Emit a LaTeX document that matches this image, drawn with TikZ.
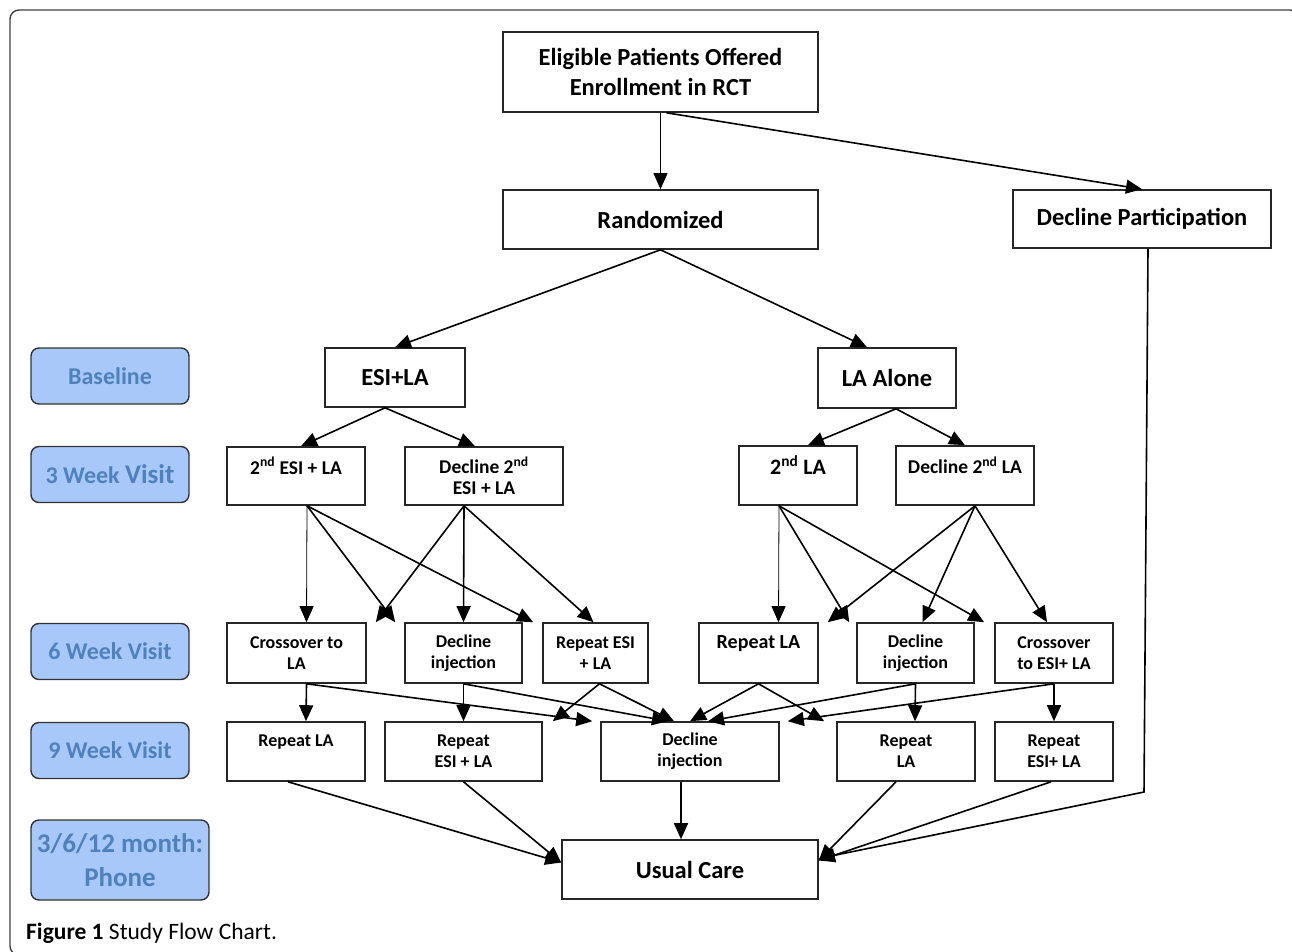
\documentclass[tikz,border=0pt]{standalone}
\usepackage{fontspec}
\setmainfont{Carlito}
\usepackage{xcolor}
\usetikzlibrary{arrows.meta}
\definecolor{stagefill}{RGB}{168,200,250}
\definecolor{stagetext}{RGB}{79,129,189}

\begin{document}
\begin{tikzpicture}[x=1pt,y=-1pt,
        box/.style={draw=black!85,line width=1.6pt,fill=white,inner sep=0pt,align=center},
        txtL/.style={font=\bfseries\fontsize{24.5}{30}\selectfont},
        txtM/.style={font=\bfseries\fontsize{19.5}{21}\selectfont},
        txtS/.style={font=\bfseries\fontsize{18}{21}\selectfont},
        stage/.style={draw=black!80,line width=1.4pt,fill=stagefill,rounded corners=8pt,inner sep=0pt,align=center,text=stagetext,font=\bfseries\fontsize{24}{28}\selectfont,minimum width=158,minimum height=56},
        arr/.style={-{Triangle[length=16pt,width=14pt]},line width=1.6pt},
        thinarr/.style={-{Triangle[length=16pt,width=14pt]},line width=0.8pt}]
        \useasboundingbox (0,0) rectangle (1292,952);
        \draw[black!75,line width=1.4pt,rounded corners=9pt] (10,10) rectangle (1299,955);

        \node[box,txtL,minimum width=315,minimum height=80] (Elig) at (660.5,72) {Eligible Patients Offered\\Enrollment in RCT};
        \node[box,txtL,minimum width=315,minimum height=59] (Rand) at (660.5,219.5) {Randomized};
        \node[box,txtL,minimum width=258,minimum height=58] (DP) at (1142,219) {Decline Participation};
        \node[box,txtL,minimum width=140,minimum height=59] (ESI) at (395,377.5) {ESI+LA};
        \node[box,txtL,minimum width=138,minimum height=60] (LAA) at (887,378) {LA Alone};

        \node[box,txtM,minimum width=138,minimum height=58] (E2) at (296,476) {2\textsuperscript{nd} ESI + LA\\~};
        \node[box,txtM,minimum width=158,minimum height=58] (DE2) at (484,476) {Decline 2\textsuperscript{nd}\\ESI + LA};
        \node[box,font=\bfseries\fontsize{22}{21}\selectfont,minimum width=118,minimum height=59] (L2) at (798,475.5) {2\textsuperscript{nd} LA\\~};
        \node[box,txtM,minimum width=138,minimum height=59] (DL2) at (965,475.5) {Decline 2\textsuperscript{nd} LA\\~};

        \node[box,txtS,minimum width=139,minimum height=60] (C6a) at (296.5,653) {Crossover to\\LA};
        \node[box,txtS,minimum width=117,minimum height=60] (D6a) at (463.5,653) {Decline\\injection};
        \node[box,txtS,minimum width=105,minimum height=60] (R6a) at (595.5,653) {Repeat ESI\\+ LA};
        \node[box,font=\bfseries\fontsize{20}{21}\selectfont,minimum width=119,minimum height=60] (R6b) at (758.5,653) {Repeat LA\\~};
        \node[box,txtS,minimum width=117,minimum height=60] (D6b) at (915.5,653) {Decline\\injection};
        \node[box,txtS,minimum width=118,minimum height=60] (C6b) at (1054,653) {Crossover\\to ESI+ LA};

        \node[box,txtS,minimum width=138,minimum height=59] (R9a) at (296,751.5) {Repeat LA\\~};
        \node[box,txtS,minimum width=157,minimum height=59] (R9b) at (463.5,751.5) {Repeat\\ESI + LA};
        \node[box,txtS,minimum width=178,minimum height=59] (D9) at (690,751.5) {Decline\\injection};
        \node[box,txtS,minimum width=138,minimum height=59] (R9c) at (906,751.5) {Repeat\\LA};
        \node[box,txtS,minimum width=118,minimum height=59] (R9d) at (1054,751.5) {Repeat\\ESI+ LA};

        \node[box,txtL,minimum width=256,minimum height=59] (UC) at (690,869.5) {Usual Care};

        \node[stage] (Base) at (110,376) {Baseline};
        \node[stage] (W3) at (110,474.5) {3 Week {\fontsize{27}{28}\selectfont Visit}};
        \node[stage] (W6) at (110,651.5) {6 Week Visit};
        \node[stage] (W9) at (110,750.5) {9 Week Visit};
        \node[stage,minimum width=178,minimum height=80,font=\bfseries\fontsize{27}{34}\selectfont] (Ph) at (120,860) {3/6/12 month:\\Phone};

        \node[anchor=base west,inner sep=0pt,font=\fontsize{23.5}{26}\selectfont] (Cap) at (26,939) {\textbf{Figure 1} Study Flow Chart.};

        \draw[thinarr] (Elig) -- (Rand);
        \draw[arr] ([xshift=6pt]Elig.south) -- (DP.north);
        \draw[arr] (Rand.south) -- (ESI.north);
        \draw[arr] (Rand.south) -- ([xshift=-20pt]LAA.north);
        \draw[arr] ([xshift=-10pt]ESI.south) -- ([xshift=5pt]E2.north);
        \draw[arr] ([xshift=-10pt]ESI.south) -- ([xshift=-9pt]DE2.north);
        \draw[arr] ([xshift=9pt]LAA.south) -- ([xshift=10pt]L2.north);
        \draw[arr] ([xshift=9pt]LAA.south) -- (DL2.north);

        \draw[thinarr] ([xshift=11pt]E2.south) -- ([xshift=10pt]C6a.north);
        \draw[arr] ([xshift=11pt]E2.south) -- ([xshift=-9pt]D6a.north west);
        \draw[arr] ([xshift=11pt]E2.south) -- ([xshift=-9pt]R6a.north west);
        \draw[arr] ([xshift=-20pt]DE2.south) -- ([xshift=9pt]C6a.north east);
        \draw[arr] ([xshift=-20pt]DE2.south) -- (D6a.north);
        \draw[arr] ([xshift=-20pt]DE2.south) -- ([xshift=-2pt]R6a.north);
        \draw[thinarr] ([xshift=-19pt]L2.south) -- ([xshift=20pt]R6b.north);
        \draw[arr] ([xshift=-19pt]L2.south) -- ([xshift=-7pt]D6b.north west);
        \draw[arr] ([xshift=-19pt]L2.south) -- ([xshift=-10pt]C6b.north west);
        \draw[arr] ([xshift=10pt]DL2.south) -- ([xshift=9pt]R6b.north east);
        \draw[arr] ([xshift=10pt]DL2.south) -- ([xshift=7pt]D6b.north);
        \draw[arr] ([xshift=10pt]DL2.south) -- ([xshift=-7pt]C6b.north);

        \draw[arr] ([xshift=10pt]C6a.south) -- ([xshift=10pt]R9a.north);
        \draw[arr] ([xshift=10pt]C6a.south) -- ([xshift=-8pt]D9.north west);
        \draw[arr] (D6a.south) -- (R9b.north);
        \draw[arr] (D6a.south) -- ([xshift=-22pt]D9.north);
        \draw[arr] ([xshift=4pt]R6a.south) -- ([xshift=10pt]R9b.north east);
        \draw[arr] ([xshift=4pt]R6a.south) -- ([xshift=-16pt]D9.north);
        \draw[arr] (R6b.south) -- (D9.north);
        \draw[arr] (R6b.south) -- ([xshift=-12pt]R9c.north west);
        \draw[arr] (D6b.south) -- ([xshift=9pt]R9c.north);
        \draw[arr] (D6b.south) -- ([xshift=18pt]D9.north);
        \draw[arr] (C6b.south) -- (R9d.north);
        \draw[arr] (C6b.south) -- ([xshift=8pt]D9.north east);

        \draw[arr] ([xshift=-8pt]R9a.south) -- ([yshift=7pt]UC.west);
        \draw[arr] (R9b.south) -- ([yshift=7pt]UC.west);
        \draw[arr] ([xshift=-9pt]D9.south) -- ([xshift=-9pt]UC.north);
        \draw[arr] ([xshift=-10pt]R9c.south) -- ([yshift=9pt]UC.east);
        \draw[arr] ([xshift=-3pt]R9d.south) -- ([yshift=9pt]UC.east);
        \coordinate (DPbend) at (1144,792);
        \draw[arr] ([xshift=6pt]DP.south) -- (DPbend) -- ([yshift=11pt]UC.east);
    \end{tikzpicture}
\end{document}
